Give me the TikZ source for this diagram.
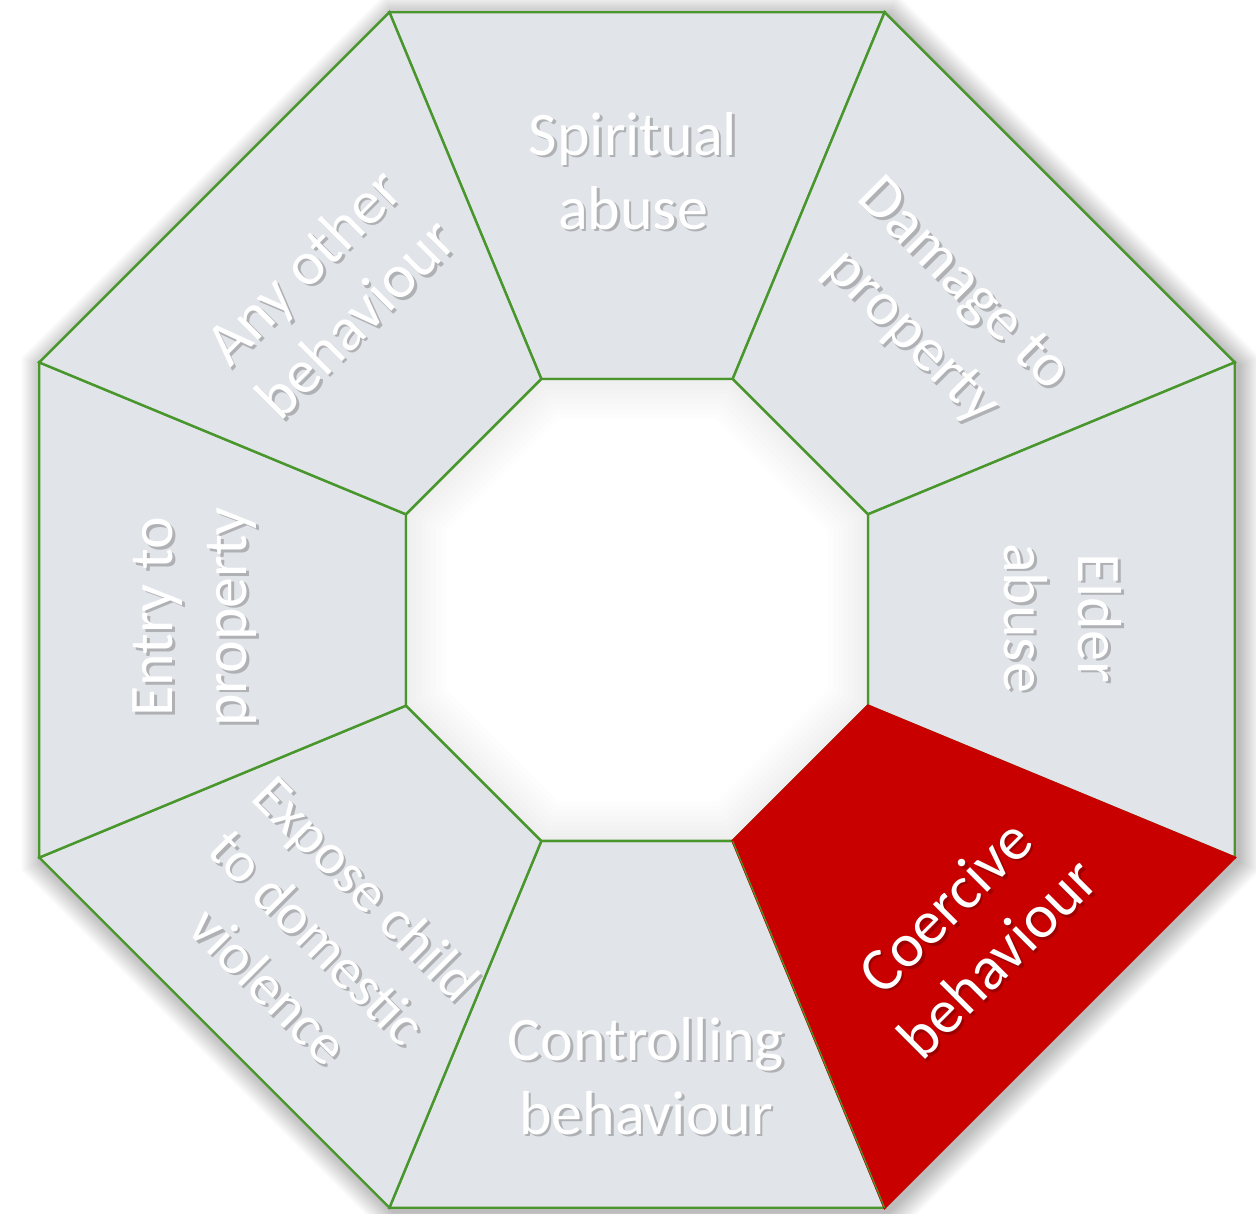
\documentclass[tikz,border=0pt]{standalone}
\usepackage{fontspec}
\setmainfont{Carlito}
\definecolor{seggray}{RGB}{225,228,232}
\definecolor{seggreen}{RGB}{72,150,44}
\definecolor{segred}{RGB}{200,0,0}
\newcommand\octpath[1]{(22.5:#1) -- (67.5:#1) -- (112.5:#1) -- (157.5:#1) -- (202.5:#1) -- (247.5:#1) -- (292.5:#1) -- (337.5:#1) -- cycle}
\newcommand\segpath[1]{({#1-22.5}:250) -- ({#1-22.5}:647) -- ({#1+22.5}:647) -- ({#1+22.5}:250) -- cycle}
\tikzset{
  seg/.style={fill=seggray, draw=seggreen, line width=2.4pt, line join=miter},
  lbl/.style={font=\fontsize{62}{74}\selectfont, text=white, align=center, inner sep=0pt},
  smalllbl/.style={lbl, font=\fontsize{58}{69}\selectfont},
  shadowed/.style={text=black, text opacity=0.22},
}
\newcommand\seglabel[6][lbl]{%
  \node[#1, shadowed, rotate=#5] (#2s) at ({#3+2.5},{1214-#4-2.5}) {#6};
  \node[#1, rotate=#5] (#2) at ({#3},{1214-#4}) {#6};
}
\begin{document}
\begin{tikzpicture}[x=1pt, y=1pt]
\fill[white] (0,0) rectangle (1256,1214);
\useasboundingbox (0,0) rectangle (1256,1214);
% outer soft shadow
\begin{scope}[shift={(641,600)}]
  \foreach \d in {1,...,22}{
    \pgfmathsetmacro\rr{647+\d*1.0824}
    \fill[black, opacity=0.011] \octpath{\rr};
  }
\end{scope}
\begin{scope}[shift={(637,604)}]
  % gray segments
  \foreach \phi in {90,45,0,-90,-135,180,135}{
    \draw[seg] \segpath{\phi};
  }
  % inner white area with soft inner shading
  \fill[white] \octpath{250};
  \begin{scope}
    \clip \octpath{250};
    \foreach \w in {10,20,...,80}{
      \draw[black, opacity=0.009, line width=\w pt] \octpath{250};
    }
  \end{scope}
  \draw[seggreen, line width=2.4pt] \octpath{250};
  % highlighted segment
  \draw[fill=segred, draw=segred, line width=2.4pt, line join=miter] \segpath{-45};
  \draw[seggreen, line width=1.2pt] (-67.5:250) -- (-67.5:647);
\end{scope}
% labels
\seglabel{spiritual}{633}{171}{0}{Spiritual\\abuse}
\seglabel{damage}{937}{312}{-45}{Damage to\\property}
\seglabel{elder}{1063}{618}{-90}{Elder\\abuse}
\seglabel{coercive}{971}{932}{45}{Coercive\\behaviour}
\seglabel{controlling}{646}{1076}{0}{Controlling\\behaviour}
\seglabel[smalllbl]{expose}{318}{937}{-45}{Expose child\\to domestic\\violence}
\seglabel{entry}{195}{617}{90}{Entry to\\property}
\seglabel{anyother}{329}{292}{45}{Any other\\behaviour}
\end{tikzpicture}
\end{document}
